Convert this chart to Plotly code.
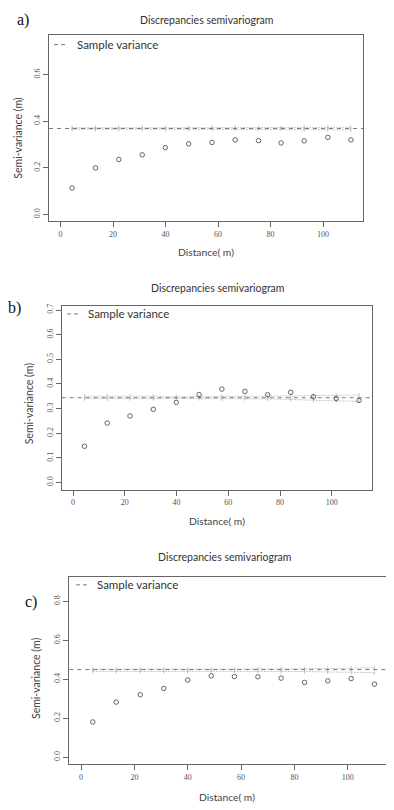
import plotly.graph_objects as go

# page body has an 8px default margin; the figure is sized to fit the 394x810 window
OFF = 8
W, H = 394 - OFF, 810 - OFF

# ---- data ----
lags_a = [4.4, 13.3, 22.2, 31.1, 39.9, 48.8, 57.7, 66.5, 75.4, 84.0, 92.8, 101.8, 110.6]
gamma_a = [0.114, 0.200, 0.236, 0.256, 0.287, 0.303, 0.309, 0.320, 0.317, 0.307, 0.316, 0.331, 0.320]
var_a = 0.369
env_hi_a = [0.372, 0.373, 0.373, 0.372, 0.372, 0.372, 0.373, 0.373, 0.372, 0.372, 0.373, 0.374, 0.374]
env_lo_a = [0.366, 0.365, 0.365, 0.366, 0.366, 0.366, 0.365, 0.365, 0.366, 0.366, 0.365, 0.364, 0.363]

lags_b = [4.4, 13.2, 22.0, 31.0, 39.9, 48.7, 57.5, 66.4, 75.2, 84.1, 92.9, 101.7, 110.5]
gamma_b = [0.147, 0.241, 0.270, 0.297, 0.325, 0.357, 0.379, 0.370, 0.356, 0.366, 0.348, 0.341, 0.333]
var_b = 0.344
env_hi_b = [0.350, 0.351, 0.350, 0.350, 0.348, 0.348, 0.350, 0.349, 0.350, 0.351, 0.353, 0.354, 0.355]
env_lo_b = [0.340, 0.339, 0.340, 0.340, 0.341, 0.341, 0.339, 0.340, 0.339, 0.337, 0.333, 0.331, 0.330]

lags_c = [4.4, 13.2, 22.2, 31.0, 40.0, 48.8, 57.5, 66.3, 75.0, 83.8, 92.5, 101.3, 110.0]
gamma_c = [0.181, 0.283, 0.321, 0.353, 0.396, 0.418, 0.414, 0.413, 0.406, 0.384, 0.392, 0.404, 0.375]
var_c = 0.450
env_hi_c = [0.452, 0.453, 0.453, 0.453, 0.452, 0.452, 0.452, 0.452, 0.453, 0.454, 0.455, 0.457, 0.459]
env_lo_c = [0.441, 0.440, 0.440, 0.440, 0.441, 0.441, 0.442, 0.442, 0.441, 0.440, 0.438, 0.436, 0.434]

x_ticks = [0, 20, 40, 60, 80, 100]
y_ticks_a = [0.0, 0.2, 0.4, 0.6]
y_ticks_b = [0.0, 0.1, 0.2, 0.3, 0.4, 0.5, 0.6, 0.7]
y_ticks_c = [0.0, 0.2, 0.4, 0.6, 0.8]

title_text = "Discrepancies semivariogram"
xlab = "Distance( m)"
ylab = "Semi-variance (m)"
legend_text = "Sample variance"
panel_labels = ["a)", "b)", "c)"]

SANS = "Lato, 'Noto Sans', sans-serif"
SERIF = "'Liberation Serif', 'DejaVu Serif', serif"
AX = "#666666"


def px(x):
    return (x - OFF) / W


def py(y):
    return 1 - (y - OFF) / H


panels = [
    dict(lags=lags_a, gamma=gamma_a, var=var_a, hi=env_hi_a, lo=env_lo_a, yt=y_ticks_a,
         box=(49, 363, 33, 220), xr=[-4.4, 115.2], yr=[-0.0297, 0.77],
         title=(206, 17.7), xl=(206, 250.7), yl=(18, 136), lab=(22.5, 18.3),
         leg=(54, 67, 75, 42.7)),
    dict(lags=lags_b, gamma=gamma_b, var=var_b, hi=env_hi_b, lo=env_lo_b, yt=y_ticks_b,
         box=(61.7, 371.7, 304.3, 489), xr=[-4.4, 115.4], yr=[-0.0295, 0.718],
         title=(217, 286.7), xl=(217, 520.7), yl=(29.3, 402), lab=(15, 306.7),
         leg=(67, 80, 86, 312.7)),
    dict(lags=lags_c, gamma=gamma_c, var=var_c, hi=env_hi_c, lo=env_lo_c, yt=y_ticks_c,
         box=(69.3, 386.7, 576.7, 764), xr=[-4.4, 114.6], yr=[-0.0355, 0.924],
         title=(224, 556.7), xl=(226.7, 796.7), yl=(36.7, 678), lab=(31, 601.7),
         leg=(76, 89, 95, 584.3)),
]

fig = go.Figure()
layout = dict(width=W, height=H, margin=dict(l=0, r=0, t=0, b=0),
              paper_bgcolor="white", plot_bgcolor="white", showlegend=False)
annotations = []
shapes = []


def ann(x, y, text, font, **kw):
    d = dict(x=px(x), y=py(y), xref="paper", yref="paper", text=text, showarrow=False,
             xanchor="center", yanchor="middle", font=font)
    d.update(kw)
    return d


for i, p in enumerate(panels):
    n = "" if i == 0 else str(i + 1)
    xa, ya = "x" + n, "y" + n
    l, r, t, b = p["box"]
    # envelope band lines
    for env in (p["hi"], p["lo"]):
        fig.add_trace(go.Scatter(x=p["lags"], y=env, xaxis=xa, yaxis=ya, mode="lines+markers",
                                 line=dict(color="#b0b0b0", width=0.7, dash="2px,1px"),
                                 marker=dict(symbol="line-ns-open", size=3, color="#a0a0a0",
                                             line=dict(width=0.6, color="#a0a0a0")),
                                 hoverinfo="skip"))
    # sample variance
    fig.add_trace(go.Scatter(x=p["xr"], y=[p["var"], p["var"]], xaxis=xa, yaxis=ya, mode="lines",
                             line=dict(color="#777777", width=1, dash="4px,4px"), hoverinfo="skip"))
    # semivariogram points
    fig.add_trace(go.Scatter(x=p["lags"], y=p["gamma"], xaxis=xa, yaxis=ya, mode="markers",
                             marker=dict(symbol="circle-open", size=4.5, color="#555555",
                                         line=dict(width=0.9, color="#555555"))))
    axcommon = dict(showline=True, mirror=True, linecolor=AX, linewidth=1, ticks="outside",
                    ticklen=5, tickcolor=AX, tickwidth=1, showgrid=False, zeroline=False,
                    tickfont=dict(family=SERIF, size=8, color="#555555"))
    layout["xaxis" + n] = dict(axcommon, domain=[px(l), px(r)], range=p["xr"],
                               tickvals=x_ticks, anchor=ya)
    layout["yaxis" + n] = dict(axcommon, domain=[py(b), py(t)], range=p["yr"],
                               tickvals=p["yt"], tickformat=".1f", tickangle=-90, anchor=xa)
    annotations += [
        ann(p["title"][0], p["title"][1], title_text, dict(family=SANS, size=10.5, color="#333333")),
        ann(p["xl"][0], p["xl"][1], xlab, dict(family=SANS, size=10.3, color="#444444")),
        ann(p["yl"][0], p["yl"][1], ylab, dict(family=SANS, size=10.5, color="#444444"), textangle=-90),
        ann(p["lab"][0], p["lab"][1], panel_labels[i], dict(family=SERIF, size=16, color="#111111")),
        ann(p["leg"][2], p["leg"][3], legend_text, dict(family=SANS, size=11.5, color="#333333"),
            xanchor="left"),
    ]
    shapes.append(dict(type="line", xref="paper", yref="paper",
                       x0=px(p["leg"][0]), x1=px(p["leg"][1]),
                       y0=py(p["leg"][3]), y1=py(p["leg"][3]),
                       line=dict(color="#777777", width=1, dash="4px,3px")))

layout["annotations"] = annotations
layout["shapes"] = shapes
fig.update_layout(**layout)
fig.write_html("out.html")
